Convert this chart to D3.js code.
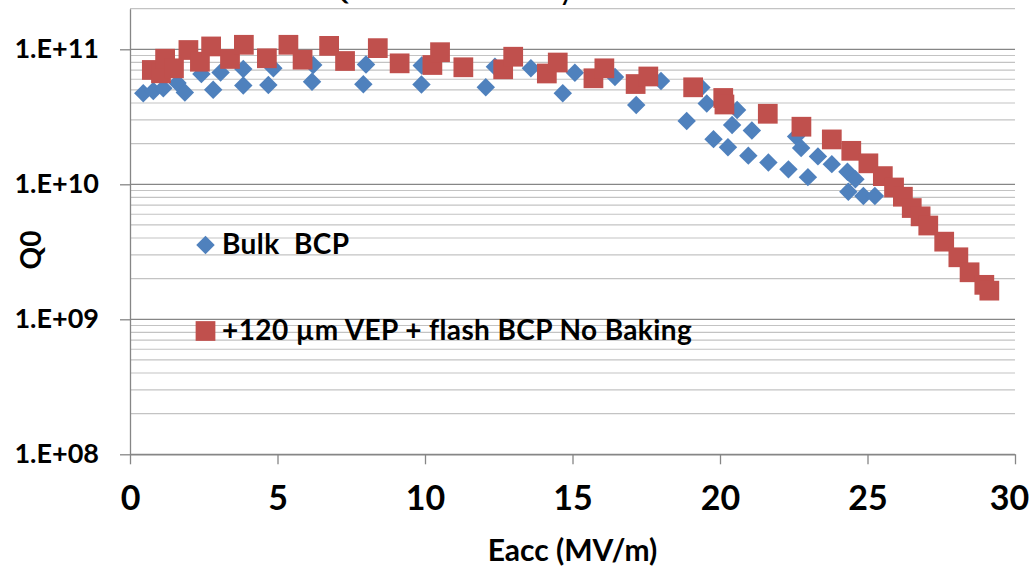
<!DOCTYPE html>
<html>
<head>
<meta charset="utf-8">
<script src="https://cdn.jsdelivr.net/npm/d3@7/dist/d3.min.js"></script>
<style>
  body { margin: 0; background: #fff; }
  svg { display: block; font-family: Lato, 'Open Sans', sans-serif; }
</style>
</head>
<body>
<svg id="chart" width="1034" height="569"></svg>
<script>
// Bulk BCP (blue diamonds)
const bulkEacc = [0.45, 0.79, 1.13, 1.61, 1.86, 2.42, 2.82, 3.07, 3.84, 3.84, 4.69, 4.86,
  6.17, 6.21, 7.91, 8.0, 9.88, 9.89, 12.06, 12.37, 13.59, 14.67, 15.08, 16.44, 17.16,
  18.0, 18.87, 19.37, 19.55, 19.78, 20.27, 20.41, 20.58, 21.08, 20.96, 21.64, 22.32,
  22.58, 22.75, 22.98, 23.32, 23.79, 24.32, 24.59, 24.35, 24.86, 25.25];
const bulkQ0 = [4.72e10, 4.91e10, 5.14e10, 5.63e10, 4.79e10, 6.56e10, 5.02e10, 6.73e10,
  7.15e10, 5.39e10, 5.44e10, 7.23e10, 5.75e10, 7.65e10, 5.51e10, 7.71e10, 5.49e10,
  7.59e10, 5.23e10, 7.43e10, 7.23e10, 4.72e10, 6.71e10, 6.23e10, 3.87e10, 5.82e10,
  2.94e10, 5.21e10, 3.97e10, 2.16e10, 1.88e10, 2.75e10, 3.55e10, 2.5e10, 1.63e10,
  1.45e10, 1.29e10, 2.26e10, 1.86e10, 1.13e10, 1.61e10, 1.41e10, 1.24e10, 1.09e10,
  8.81e9, 8.19e9, 8.19e9];

// +120 um VEP + flash BCP, no baking (red squares)
const vepEacc = [0.74, 1.05, 1.19, 1.49, 1.98, 2.37, 2.75, 3.39, 3.86, 4.64, 5.37, 5.85,
  6.75, 7.29, 8.40, 9.14, 10.25, 10.51, 11.30, 12.65, 12.99, 14.13, 14.50, 15.71, 16.08,
  17.14, 17.57, 19.09, 20.11, 20.15, 21.62, 22.76, 23.79, 24.45, 25.03, 25.52, 25.90,
  26.20, 26.50, 26.80, 27.06, 27.60, 28.08, 28.46, 28.96, 29.13];
const vepQ0 = [7.03e10, 6.64e10, 8.52e10, 7.23e10, 9.88e10, 8.09e10, 1.05e11, 8.48e10,
  1.08e11, 8.58e10, 1.08e11, 8.38e10, 1.06e11, 8.19e10, 1.02e11, 7.87e10, 7.65e10,
  9.52e10, 7.36e10, 7.11e10, 8.81e10, 6.62e10, 7.98e10, 6.10e10, 7.23e10, 5.53e10,
  6.29e10, 5.23e10, 4.36e10, 3.90e10, 3.33e10, 2.67e10, 2.15e10, 1.77e10, 1.43e10,
  1.15e10, 9.47e9, 8.09e9, 6.67e9, 5.79e9, 4.95e9, 3.76e9, 2.88e9, 2.23e9, 1.80e9, 1.63e9];

const xTicks = [0, 5, 10, 15, 20, 25, 30];
const yTicks = [1e8, 1e9, 1e10, 1e11];
const yTickLabels = ['1.E+08', '1.E+09', '1.E+10', '1.E+11'];
const seriesNames = ['Bulk  BCP', '+120 \u00b5m VEP + flash BCP No Baking'];

const blue = '#4f81bd';
const red = '#c0504d';
const axisGrey = '#868686';
const minorGrey = '#c3c3c3';

const svg = d3.select('#chart');
const plotLeft = 130;
const plotRight = 1015;
const plotBottom = 454.3;
const plotTop = plotBottom - 135 * Math.log10(2e11 / 1e8);

const x = d3.scaleLinear().domain([0, 30]).range([plotLeft, plotRight]);
const y = d3.scaleLog().domain([1e8, 2e11]).range([plotBottom, plotTop]);

// minor gridlines: 2..9 in each decade, plus the top edge
const minor = [];
[1e8, 1e9, 1e10].forEach((d) => {
  d3.range(2, 10).forEach((k) => minor.push(d * k));
});
minor.push(2e11);

svg.append('g')
  .selectAll('line')
  .data(minor)
  .join('line')
  .attr('x1', plotLeft)
  .attr('x2', plotRight)
  .attr('y1', (d) => y(d))
  .attr('y2', (d) => y(d))
  .attr('stroke', minorGrey)
  .attr('stroke-width', 1.2);

svg.append('g')
  .selectAll('line')
  .data(yTicks)
  .join('line')
  .attr('x1', plotLeft)
  .attr('x2', plotRight)
  .attr('y1', (d) => y(d))
  .attr('y2', (d) => y(d))
  .attr('stroke', axisGrey)
  .attr('stroke-width', 1.3);

// axes
const yAxis = svg.append('g')
  .attr('transform', `translate(${plotLeft},0)`)
  .call(d3.axisLeft(y)
    .tickValues(yTicks)
    .tickFormat((d, i) => yTickLabels[i])
    .tickSize(10)
    .tickSizeOuter(0)
    .tickPadding(21));

const xAxis = svg.append('g')
  .attr('transform', `translate(0,${plotBottom})`)
  .call(d3.axisBottom(x)
    .tickValues(xTicks)
    .tickSize(10)
    .tickSizeOuter(0)
    .tickPadding(22));

[yAxis, xAxis].forEach((g) => {
  g.select('.domain').attr('stroke', axisGrey).attr('stroke-width', 1.3);
  g.selectAll('.tick line').attr('stroke', axisGrey).attr('stroke-width', 1.3);
  g.selectAll('.tick text')
    .attr('fill', '#000')
    .style('font-family', 'Lato, sans-serif')
    .style('font-weight', 'bold');
});
yAxis.selectAll('.tick text').style('font-size', '27px');
xAxis.selectAll('.tick text').style('font-size', '34px');
// the last label is pulled in so it stays inside the frame, as in the original
xAxis.selectAll('.tick text')
  .filter((d) => d === 30)
  .attr('dx', -6);

// axis titles
svg.append('text')
  .attr('transform', 'translate(41,250) rotate(-90)')
  .attr('text-anchor', 'middle')
  .style('font-size', '28px')
  .style('font-weight', 'bold')
  .text('Q0');

svg.append('text')
  .attr('x', (plotLeft + plotRight) / 2)
  .attr('y', 561)
  .attr('text-anchor', 'middle')
  .style('font-size', '30px')
  .style('font-weight', 'bold')
  .text('Eacc (MV/m)');

// title, mostly cut off by the top edge
svg.append('text')
  .attr('x', 575)
  .attr('y', -1)
  .attr('text-anchor', 'end')
  .style('font-size', '32px')
  .text('Q0 vs Eacc Cavity');

// markers
const diamond = d3.symbol().type(d3.symbolSquare).size(170);
const square = d3.symbol().type(d3.symbolSquare).size(390);

const bulk = bulkEacc.map((e, i) => ({ e, q: bulkQ0[i] }));
const vep = vepEacc.map((e, i) => ({ e, q: vepQ0[i] }));

svg.append('g')
  .selectAll('path')
  .data(bulk)
  .join('path')
  .attr('d', diamond)
  .attr('transform', (d) => `translate(${x(d.e)},${y(d.q)}) rotate(45)`)
  .attr('fill', blue);

svg.append('g')
  .selectAll('path')
  .data(vep)
  .join('path')
  .attr('d', square)
  .attr('transform', (d) => `translate(${x(d.e)},${y(d.q)})`)
  .attr('fill', red);

// legend
const legend = svg.append('g');
const legendRows = [
  { name: seriesNames[0], color: blue, type: 'diamond', cy: 245 },
  { name: seriesNames[1], color: red, type: 'square', cy: 331 },
];
legendRows.forEach((row) => {
  legend.append('path')
    .attr('d', row.type === 'diamond' ? diamond : square)
    .attr('transform', `translate(205.5,${row.cy})${row.type === 'diamond' ? ' rotate(45)' : ''}`)
    .attr('fill', row.color);
  legend.append('text')
    .attr('x', 222)
    .attr('y', row.cy + 9)
    .style('font-size', '28px')
    .style('font-weight', 'bold')
    .style('letter-spacing', '0.4px')
    .style('white-space', 'pre')
    .text(row.name);
});
</script>
</body>
</html>
